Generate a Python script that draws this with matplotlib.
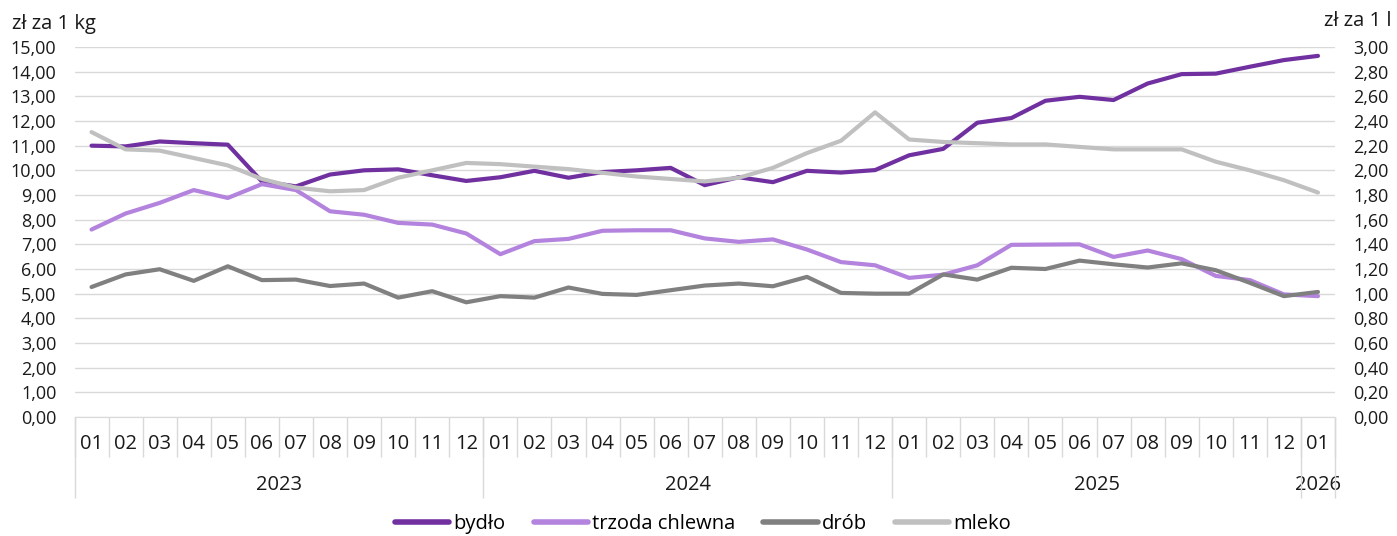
import numpy as np
from matplotlib import pyplot as plt
from matplotlib.ticker import FuncFormatter, FixedLocator
from matplotlib.lines import Line2D

plt.rcParams['font.family'] = ['Open Sans', 'DejaVu Sans']

months = ['01', '02', '03', '04', '05', '06', '07', '08', '09', '10', '11', '12'] * 3 + ['01']
years = ['2023', '2024', '2025', '2026']
year_len = [12, 12, 12, 1]

# zł za 1 kg (left axis)
bydlo = [11.00, 10.97, 11.17, 11.10, 11.04, 9.55, 9.35, 9.83, 10.00, 10.04, 9.80, 9.57,
         9.72, 9.98, 9.70, 9.93, 10.00, 10.10, 9.40, 9.72, 9.52, 9.98, 9.91, 10.01,
         10.61, 10.87, 11.93, 12.12, 12.82, 12.98, 12.85, 13.52, 13.90, 13.92, 14.20, 14.47,
         14.64]
trzoda = [7.60, 8.25, 8.68, 9.20, 8.88, 9.44, 9.20, 8.34, 8.20, 7.87, 7.80, 7.44,
          6.60, 7.13, 7.22, 7.55, 7.57, 7.57, 7.24, 7.10, 7.20, 6.79, 6.28, 6.15,
          5.64, 5.77, 6.15, 6.98, 6.99, 7.00, 6.49, 6.75, 6.40, 5.72, 5.55, 4.97,
          4.90]
drob = [5.27, 5.78, 5.99, 5.52, 6.11, 5.55, 5.57, 5.31, 5.41, 4.84, 5.10, 4.65,
        4.90, 4.84, 5.25, 4.99, 4.95, 5.14, 5.33, 5.41, 5.30, 5.68, 5.03, 5.00,
        5.00, 5.78, 5.57, 6.05, 6.00, 6.34, 6.19, 6.06, 6.23, 5.95, 5.44, 4.90,
        5.07]
# zł za 1 l (right axis)
mleko = [2.31, 2.17, 2.16, 2.10, 2.04, 1.93, 1.86, 1.83, 1.84, 1.94, 2.00, 2.06,
         2.05, 2.03, 2.01, 1.98, 1.95, 1.93, 1.91, 1.94, 2.02, 2.14, 2.24, 2.47,
         2.25, 2.23, 2.22, 2.21, 2.21, 2.19, 2.17, 2.17, 2.17, 2.07, 2.00, 1.92,
         1.82]

c_bydlo = '#7030A0'
c_trzoda = '#B383DD'
c_drob = '#808080'
c_mleko = '#C0C0C0'
grid_c = '#D9D9D9'
txt_c = '#1a1a1a'
fs = 13      # y tick labels
fs2 = 14.5   # other texts

fig = plt.figure(figsize=(13.97, 5.36), dpi=100)
ax = fig.add_axes([74.5 / 1397, 1 - 417 / 536, (1335 - 74.5) / 1397, (417 - 47) / 536])
ax2 = ax.twinx()

x = np.arange(len(months))
ax.plot(x, bydlo, color=c_bydlo, lw=3, solid_capstyle='round', zorder=3)
ax.plot(x, trzoda, color=c_trzoda, lw=3, solid_capstyle='round', zorder=3)
ax.plot(x, drob, color=c_drob, lw=3, solid_capstyle='round', zorder=3)
ax2.plot(x, mleko, color=c_mleko, lw=3, solid_capstyle='round', zorder=3)

fmt = FuncFormatter(lambda v, p: ('%.2f' % v).replace('.', ','))
ax.set_ylim(0, 15)
ax.set_yticks(np.arange(0, 16, 1))
ax.yaxis.set_major_formatter(fmt)
ax2.set_ylim(0, 3)
ax2.set_yticks(np.arange(0, 3.01, 0.2))
ax2.yaxis.set_major_formatter(fmt)
ax.grid(axis='y', color=grid_c, lw=1)
ax.set_axisbelow(True)

for a in (ax, ax2):
    for s in ['top', 'left', 'right']:
        a.spines[s].set_visible(False)
    a.tick_params(axis='y', length=0, labelsize=fs, colors=txt_c, pad=13)
ax.spines['bottom'].set_color(grid_c)
ax2.spines['bottom'].set_visible(False)

# month labels and separators
ax.set_xlim(-0.5, len(months) - 0.5)
ax.set_xticks(x)
ax.set_xticklabels(months)
ax.tick_params(axis='x', which='major', length=0, pad=12, labelsize=fs2, colors=txt_c)
ax.xaxis.set_minor_locator(FixedLocator(np.arange(-0.5, len(months), 1)))
ax.tick_params(axis='x', which='minor', length=29, color=grid_c, width=1)

# year labels and separators
bounds = np.concatenate([[0], np.cumsum(year_len)]) - 0.5
centers = (bounds[:-1] + bounds[1:]) / 2
sec = ax.secondary_xaxis('bottom')
sec.set_xticks(centers)
sec.set_xticklabels(years)
sec.xaxis.set_minor_locator(FixedLocator(bounds))
sec.tick_params(axis='x', which='major', length=0, pad=42, labelsize=fs2, colors=txt_c)
sec.tick_params(axis='x', which='minor', length=58, color=grid_c, width=1)
sec.spines['bottom'].set_visible(False)

fig.text(12 / 1397, 1 - 24 / 536, 'zł za 1 kg', fontsize=fs2, color=txt_c, va='center', ha='left')
fig.text(1392 / 1397, 1 - 21 / 536, 'zł za 1 l', fontsize=fs2, color=txt_c, va='center', ha='right')

handles = [Line2D([], [], color=c, lw=4, solid_capstyle='round') for c in (c_bydlo, c_trzoda, c_drob, c_mleko)]
fig.legend(handles, ['bydło', 'trzoda chlewna', 'drób', 'mleko'], loc='center',
           bbox_to_anchor=(703 / 1397, 1 - 524 / 536), ncol=4, frameon=False,
           fontsize=fs2, handlelength=2.7, handletextpad=0.2, columnspacing=1.4)

fig.savefig('out.png', dpi=100)
